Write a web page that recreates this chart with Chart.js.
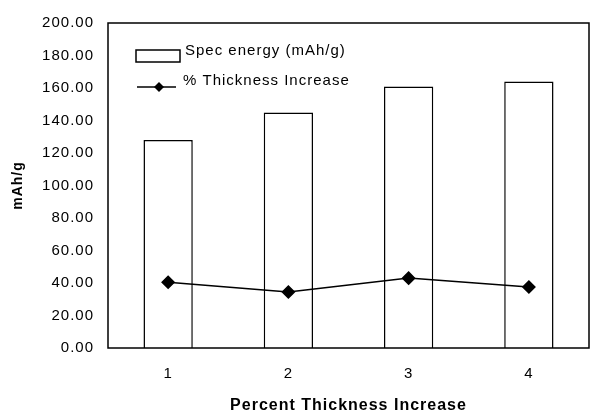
<!DOCTYPE html>
<html>
<head>
<meta charset="utf-8">
<script src="https://cdn.jsdelivr.net/npm/chart.js@4.4.1/dist/chart.umd.min.js"></script>
<style>
  html, body { margin: 0; padding: 0; background: #fff; overflow: hidden; }
  canvas { display: block; }
</style>
</head>
<body>
<canvas id="chart" width="592" height="411"></canvas>
<script>
// data
const categories = ['1', '2', '3', '4'];
const specEnergy = [128, 145, 161, 164];
const thicknessIncrease = [40.5, 34.5, 43, 37.5];
const yTicks = [0, 20, 40, 60, 80, 100, 120, 140, 160, 180, 200];

const FONT = '"Liberation Sans", Arial, sans-serif';

// the scanned original has wide letter spacing
const spacingPlugin = {
  id: 'spacing',
  beforeUpdate(chart) { chart.ctx.letterSpacing = '1px'; },
  beforeLayout(chart) { chart.ctx.letterSpacing = '1px'; },
  beforeDraw(chart) { chart.ctx.letterSpacing = '1px'; }
};

// box around the plot + legend drawn inside it
const framePlugin = {
  id: 'frame',
  afterDraw(chart) {
    const ctx = chart.ctx;
    const a = chart.chartArea;
    ctx.save();
    ctx.strokeStyle = '#000';
    ctx.lineWidth = 1.5;
    ctx.strokeRect(a.left, a.top, a.right - a.left, a.bottom - a.top);

    // legend
    const lx = a.left + 28;
    ctx.fillStyle = '#fff';
    ctx.fillRect(lx, a.top + 27, 44, 12);
    ctx.strokeRect(lx, a.top + 27, 44, 12);
    ctx.fillStyle = '#000';
    ctx.font = '15px ' + FONT;
    ctx.letterSpacing = '1px';
    ctx.textBaseline = 'middle';
    ctx.textAlign = 'left';
    ctx.fillText('Spec energy (mAh/g)', lx + 49, a.top + 28);

    const ly = a.top + 64;
    ctx.beginPath();
    ctx.moveTo(lx + 1, ly);
    ctx.lineTo(lx + 40, ly);
    ctx.stroke();
    const cx = lx + 23;
    ctx.beginPath();
    ctx.moveTo(cx, ly - 5);
    ctx.lineTo(cx + 5, ly);
    ctx.lineTo(cx, ly + 5);
    ctx.lineTo(cx - 5, ly);
    ctx.closePath();
    ctx.fill();
    ctx.fillText('% Thickness Increase', lx + 47, ly - 6);
    ctx.restore();
  }
};

new Chart(document.getElementById('chart'), {
  data: {
    labels: categories,
    datasets: [
      {
        type: 'line',
        label: '% Thickness Increase',
        data: thicknessIncrease,
        borderColor: '#000',
        backgroundColor: '#000',
        borderWidth: 1.5,
        pointStyle: 'rectRot',
        pointRadius: 6,
        tension: 0,
        order: 0
      },
      {
        type: 'bar',
        label: 'Spec energy (mAh/g)',
        data: specEnergy,
        backgroundColor: '#fff',
        borderColor: '#000',
        borderWidth: 1.5,
        categoryPercentage: 1,
        barPercentage: 0.41,
        order: 1
      }
    ]
  },
  options: {
    responsive: false,
    animation: false,
    layout: { autoPadding: false, padding: { top: 19, right: 3, left: 0, bottom: 0 } },
    plugins: {
      legend: { display: false },
      tooltip: { enabled: false }
    },
    scales: {
      x: {
        grid: { display: false, drawTicks: false },
        border: { display: false },
        ticks: { color: '#000', font: { family: FONT, size: 15 }, padding: 17 },
        title: {
          display: true,
          text: 'Percent Thickness Increase',
          color: '#000',
          font: { family: FONT, size: 16, weight: 'bold' },
          padding: { top: 14, bottom: -4 }
        },
        afterFit(s) { s.height = 63; }
      },
      y: {
        min: 0,
        max: 200,
        afterBuildTicks(s) { s.ticks = yTicks.map(v => ({ value: v })); },
        grid: { display: false, drawTicks: false },
        border: { display: false },
        ticks: {
          color: '#000',
          font: { family: FONT, size: 15 },
          padding: 14,
          callback: v => Number(v).toFixed(2)
        },
        title: {
          display: true,
          text: 'mAh/g',
          color: '#000',
          font: { family: FONT, size: 14, weight: 'bold' },
          padding: { top: 10, bottom: 0 }
        },
        afterFit(s) { s.width = 108; }
      }
    }
  },
  plugins: [spacingPlugin, framePlugin]
});
</script>
</body>
</html>
